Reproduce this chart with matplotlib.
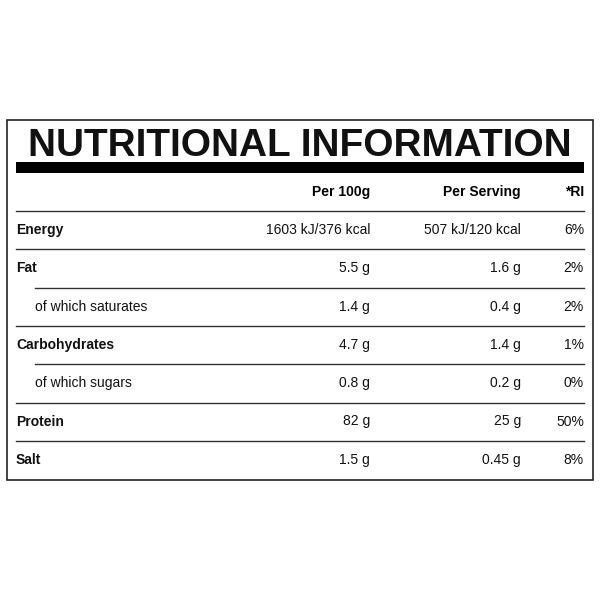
import matplotlib.pyplot as plt
from matplotlib.patches import Rectangle

title = 'NUTRITIONAL INFORMATION'
headers = ['Per 100g', 'Per Serving', '*RI']
nutrients = ['Energy', 'Fat', 'of which saturates', 'Carbohydrates',
             'of which sugars', 'Protein', 'Salt']
sub_row = [False, False, True, False, True, False, False]
per_100g = ['1603 kJ/376 kcal', '5.5 g', '1.4 g', '4.7 g', '0.8 g', '82 g', '1.5 g']
per_serving = ['507 kJ/120 kcal', '1.6 g', '0.4 g', '1.4 g', '0.2 g', '25 g', '0.45 g']
ri = ['6%', '2%', '2%', '1%', '0%', '50%', '8%']

plt.rcParams['font.family'] = ['Liberation Sans', 'DejaVu Sans']

fig = plt.figure(figsize=(6, 6), dpi=100)
ax = fig.add_axes([0, 0, 1, 1])
ax.set_xlim(0, 600)
ax.set_ylim(600, 0)
ax.axis('off')

# outer box and the thick bar under the title
ax.add_patch(Rectangle((7, 120), 586, 360, fill=False, lw=1.2, ec='#222'))
ax.add_patch(Rectangle((16, 162), 568, 11, color='black', lw=0))
t = ax.text(300, 146, title, ha='center', va='center', fontsize=30, fontweight='bold',
            color='#111')
# shrink title until it fits the 542 px wide space
r = fig.canvas.get_renderer()
w = t.get_window_extent(r).width
t.set_fontsize(30 * 542 / w)

col_x = [370, 521, 584]
for x, h in zip(col_x, headers):
    ax.text(x, 192, h, ha='right', va='center', fontsize=10, fontweight='bold')

row_h = 38.3
ax.plot([16, 584], [211, 211], color='#333', lw=1)
for i, name in enumerate(nutrients):
    y = 230 + i * row_h
    ax.text(35 if sub_row[i] else 16, y, name, ha='left', va='center', fontsize=10,
            fontweight='normal' if sub_row[i] else 'bold', color='#111')
    for x, v in zip(col_x, [per_100g[i], per_serving[i], ri[i]]):
        ax.text(x, y, v, ha='right', va='center', fontsize=10, color='#111')
    if i < len(nutrients) - 1:
        yl = 211 + (i + 1) * row_h
        x0 = 35 if sub_row[i + 1] else 16
        ax.plot([x0, 584], [yl, yl], color='#333', lw=1)

fig.savefig('out.png', dpi=100)
